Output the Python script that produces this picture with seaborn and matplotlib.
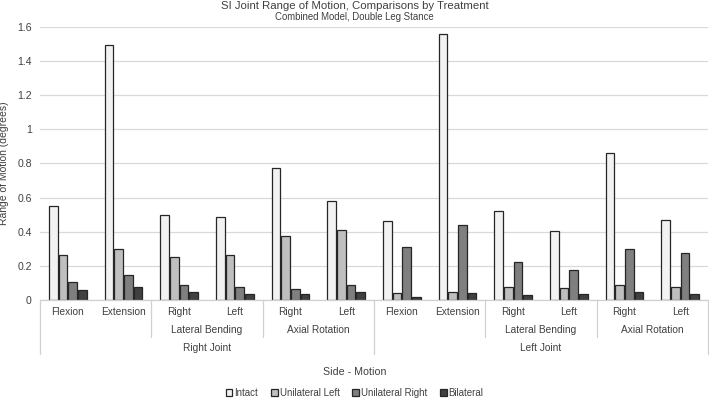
import pandas as pd
import numpy as np
import matplotlib
matplotlib.use("Agg")
import matplotlib.pyplot as plt
import matplotlib.transforms as mtransforms
import seaborn as sns

# data
joints = ["Right Joint"] * 6 + ["Left Joint"] * 6
motions = ["Flexion", "Extension", "Right", "Left", "Right", "Left"] * 2
treatments = ["Intact", "Unilateral Left", "Unilateral Right", "Bilateral"]
intact = [0.55, 1.49, 0.50, 0.485, 0.77, 0.578, 0.465, 1.56, 0.52, 0.406, 0.86, 0.47]
uni_left = [0.263, 0.297, 0.252, 0.266, 0.373, 0.407, 0.04, 0.045, 0.078, 0.068, 0.088, 0.074]
uni_right = [0.107, 0.146, 0.088, 0.074, 0.064, 0.088, 0.31, 0.437, 0.224, 0.175, 0.30, 0.277]
bilateral = [0.058, 0.078, 0.045, 0.035, 0.035, 0.045, 0.016, 0.039, 0.029, 0.035, 0.045, 0.035]
group_labels = [("Lateral Bending", 2.5), ("Axial Rotation", 4.5),
                ("Lateral Bending", 8.5), ("Axial Rotation", 10.5)]
joint_labels = [("Right Joint", 2.5), ("Left Joint", 8.5)]

positions = [f"{j}|{m}|{i}" for i, (j, m) in enumerate(zip(joints, motions))]
df = pd.DataFrame({
    "pos": positions * 4,
    "treatment": np.repeat(treatments, len(positions)),
    "value": intact + uni_left + uni_right + bilateral,
})

sns.set_style("white")
plt.rcParams["font.family"] = ["Liberation Sans", "DejaVu Sans"]
txt = "#404040"

fig = plt.figure(figsize=(7.09, 4.0), dpi=100)
ax = fig.add_axes([40 / 709, 100 / 400, 668 / 709, 273.3 / 400])

sns.barplot(data=df, x="pos", y="value", hue="treatment", order=positions,
            hue_order=treatments,
            palette=["#f2f2f2", "#bfbfbf", "#7f7f7f", "#404040"],
            edgecolor="#262626", linewidth=0.9, width=0.7, gap=0.1, ax=ax)

ax.set_ylim(0, 1.6)
ax.set_xlim(-0.5, 11.5)
ax.set_yticks(np.arange(0, 1.61, 0.2))
ax.set_yticklabels([f"{v:g}" for v in np.arange(0, 1.61, 0.2).round(1)],
                   fontsize=7.6, color=txt)
ax.yaxis.grid(True, color="#d9d9d9", linewidth=0.9)
ax.set_axisbelow(True)
ax.tick_params(axis="y", length=0, pad=6)
ax.set_xticks([])
ax.set_xlabel("")
ax.set_ylabel("Range of Motion (degrees)", fontsize=7.5, color=txt)
ax.yaxis.set_label_coords(-31 / 668, 0.5)
for s in ["top", "right", "left"]:
    ax.spines[s].set_visible(False)
ax.spines["bottom"].set_color("#d0d0d0")
ax.spines["bottom"].set_linewidth(0.9)

handles, labels = ax.get_legend_handles_labels()
ax.get_legend().remove()

# multi-level category axis
tr = mtransforms.blended_transform_factory(ax.transData, fig.transFigure)
fy = lambda py: 1 - py / 400
for i, m in enumerate(motions):
    ax.text(i, fy(312), m, transform=tr, ha="center", va="center",
            fontsize=7.3, color=txt)
for lab, x in group_labels:
    ax.text(x, fy(330), lab, transform=tr, ha="center", va="center",
            fontsize=7.3, color=txt)
for lab, x in joint_labels:
    ax.text(x, fy(348), lab, transform=tr, ha="center", va="center",
            fontsize=7.3, color=txt)
for x, py in [(-0.5, 354), (1.5, 337), (3.5, 337), (5.5, 354),
              (7.5, 337), (9.5, 337), (11.5, 354)]:
    ax.plot([x, x], [fy(300), fy(py)], transform=tr, color="#d0d0d0",
            linewidth=0.9, clip_on=False)

fig.text(0.5, fy(372), "Side - Motion", ha="center", va="center",
         fontsize=7.7, color=txt)
fig.text(0.5, fy(6), "SI Joint Range of Motion, Comparisons by Treatment",
         ha="center", va="center", fontsize=8.2, color=txt)
fig.text(0.5, fy(17), "Combined Model, Double Leg Stance",
         ha="center", va="center", fontsize=6.9, color=txt)

fig.legend(handles, labels, loc="center", bbox_to_anchor=(0.5, fy(393)),
           ncol=4, frameon=False, fontsize=7.0, handlelength=0.7,
           handleheight=0.7, handletextpad=0.2, columnspacing=1.3,
           labelcolor=txt)

fig.savefig("out.png", dpi=100)
